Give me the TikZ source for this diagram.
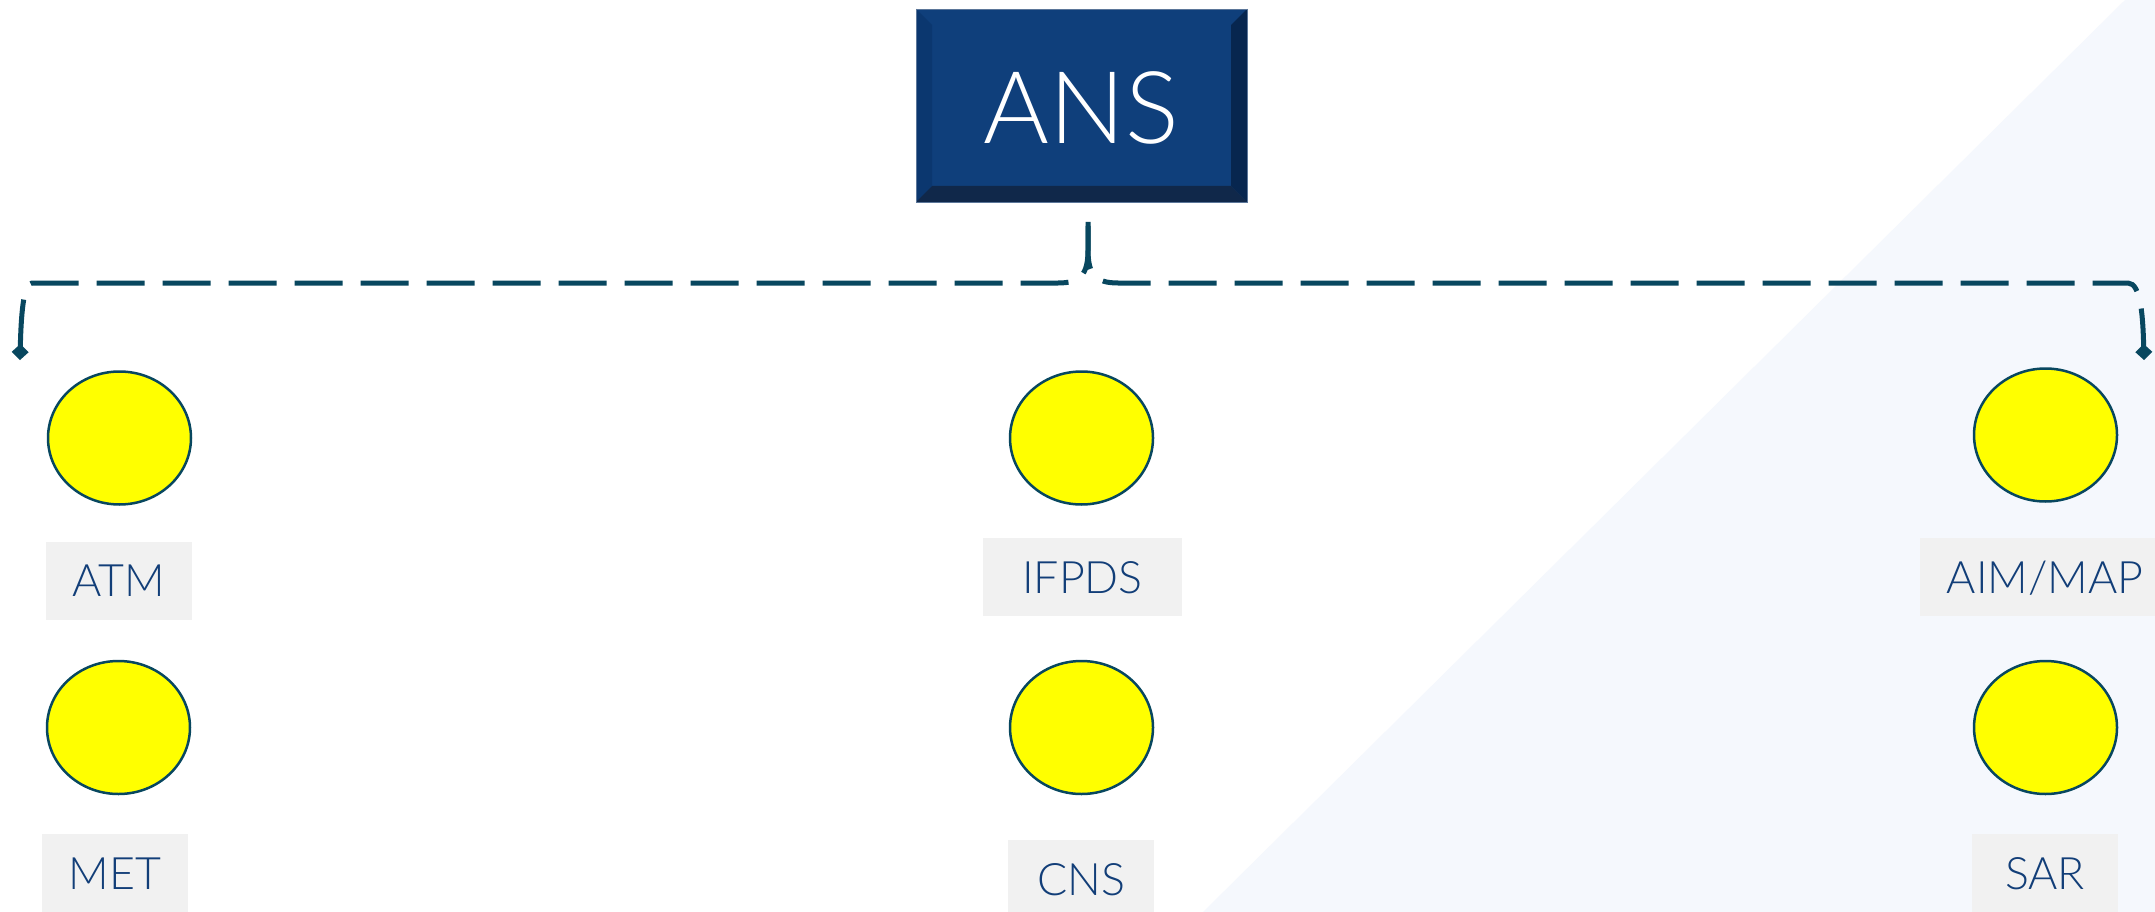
\documentclass[tikz,border=0pt]{standalone}
\usepackage{fontspec}
\setmainfont{Lato Light}
\usetikzlibrary{arrows.meta,shapes.geometric,calc}
\definecolor{ansmain}{HTML}{0F3F7B}
\definecolor{ansleft}{HTML}{0B376F}
\definecolor{ansright}{HTML}{07264F}
\definecolor{ansbottom}{HTML}{10284A}
\definecolor{ansedge}{HTML}{5B7699}
\definecolor{conncol}{HTML}{08475F}
\definecolor{lbltext}{HTML}{123E78}
\definecolor{lblfill}{HTML}{F1F1F1}
\definecolor{bgtri}{HTML}{F5F8FD}
\definecolor{blobfill}{HTML}{FFFF00}
\tikzset{
  ansbox/.style={rectangle, fill=ansmain, text=white, minimum width=331pt, minimum height=193pt,
    inner sep=0pt, outer sep=0pt, font=\fontsize{100.5}{110}\selectfont, text height=77pt, text depth=0pt},
  blob/.style={ellipse, draw=conncol, line width=2.5pt, fill=blobfill, minimum width=143pt,
    minimum height=133pt, inner sep=0pt, outer sep=0pt},
  lbl/.style={rectangle, fill=lblfill, text=lbltext, minimum height=78pt, inner sep=0pt, outer sep=0pt,
    font=\fontsize{44.7}{50}\selectfont, text height=32pt, text depth=0pt},
  connector/.style={draw=conncol, line width=5pt, dash pattern=on 48pt off 18pt},
  tipd/.tip={Diamond[length=16pt,width=17pt]}
}
\begin{document}
\begin{tikzpicture}[x=1pt,y=-1pt]
\useasboundingbox (0,0) rectangle (2155,912);
\fill[white] (0,0) rectangle (2155,912);
\fill[bgtri] (1203,912) -- (2125,0) -- (2155,0) -- (2155,912) -- cycle;

% ANS box
\node[ansbox] (ans) at (1081.5,105.5) {ANS};
\fill[ansleft] (ans.north west) -- ++(16,16) -- ($(ans.south west)+(16,-16)$) -- (ans.south west) -- cycle;
\fill[ansright] (ans.north east) -- ++(-16,16) -- ($(ans.south east)+(-16,-16)$) -- (ans.south east) -- cycle;
\fill[ansbottom] (ans.south west) -- ++(16,-16) -- ($(ans.south east)+(-16,-16)$) -- (ans.south east) -- cycle;
\draw[ansedge, line width=0.8pt] (ans.north west) rectangle (ans.south east);

% ellipses
\node[blob] (eatm) at (119.5,438) {};
\node[blob] (emet) at (118.5,727.5) {};
\node[blob] (eifp) at (1081.5,438) {};
\node[blob] (ecns) at (1081.5,727.5) {};
\node[blob] (eaim) at (2045.5,435) {};
\node[blob] (esar) at (2045.5,727.5) {};

% labels
\node[lbl, minimum width=146pt] (latm) at (119,580.5) {ATM};
\node[lbl, minimum width=146pt] (lmet) at (115,873) {MET};
\node[lbl, minimum width=199pt] (lifp) at (1082.5,577) {IFPDS};
\node[lbl, minimum width=146pt] (lcns) at (1081,879) {CNS};
\node[lbl, minimum width=250pt] (laim) at (2045,577) {AIM/MAP};
\node[lbl, minimum width=146pt] (lsar) at (2045,873) {SAR};

% connectors
\coordinate (fork) at (1088,222);
\coordinate (tipL) at (20,360);
\coordinate (tipR) at (2144,360);
\draw[connector, {tipd}-] (tipL) .. controls (21,318) and (23,283) .. (32,283) -- (1058,283)
  .. controls (1080,283) and (1088,275) .. (1088,250) -- (fork);
\draw[connector, dash phase=9pt, {tipd}-] (tipR) .. controls (2143,318) and (2141,283) .. (2128,283) -- (1118,283)
  .. controls (1096,283) and (1088,275) .. (1088,250) -- (fork);
\end{tikzpicture}
\end{document}
